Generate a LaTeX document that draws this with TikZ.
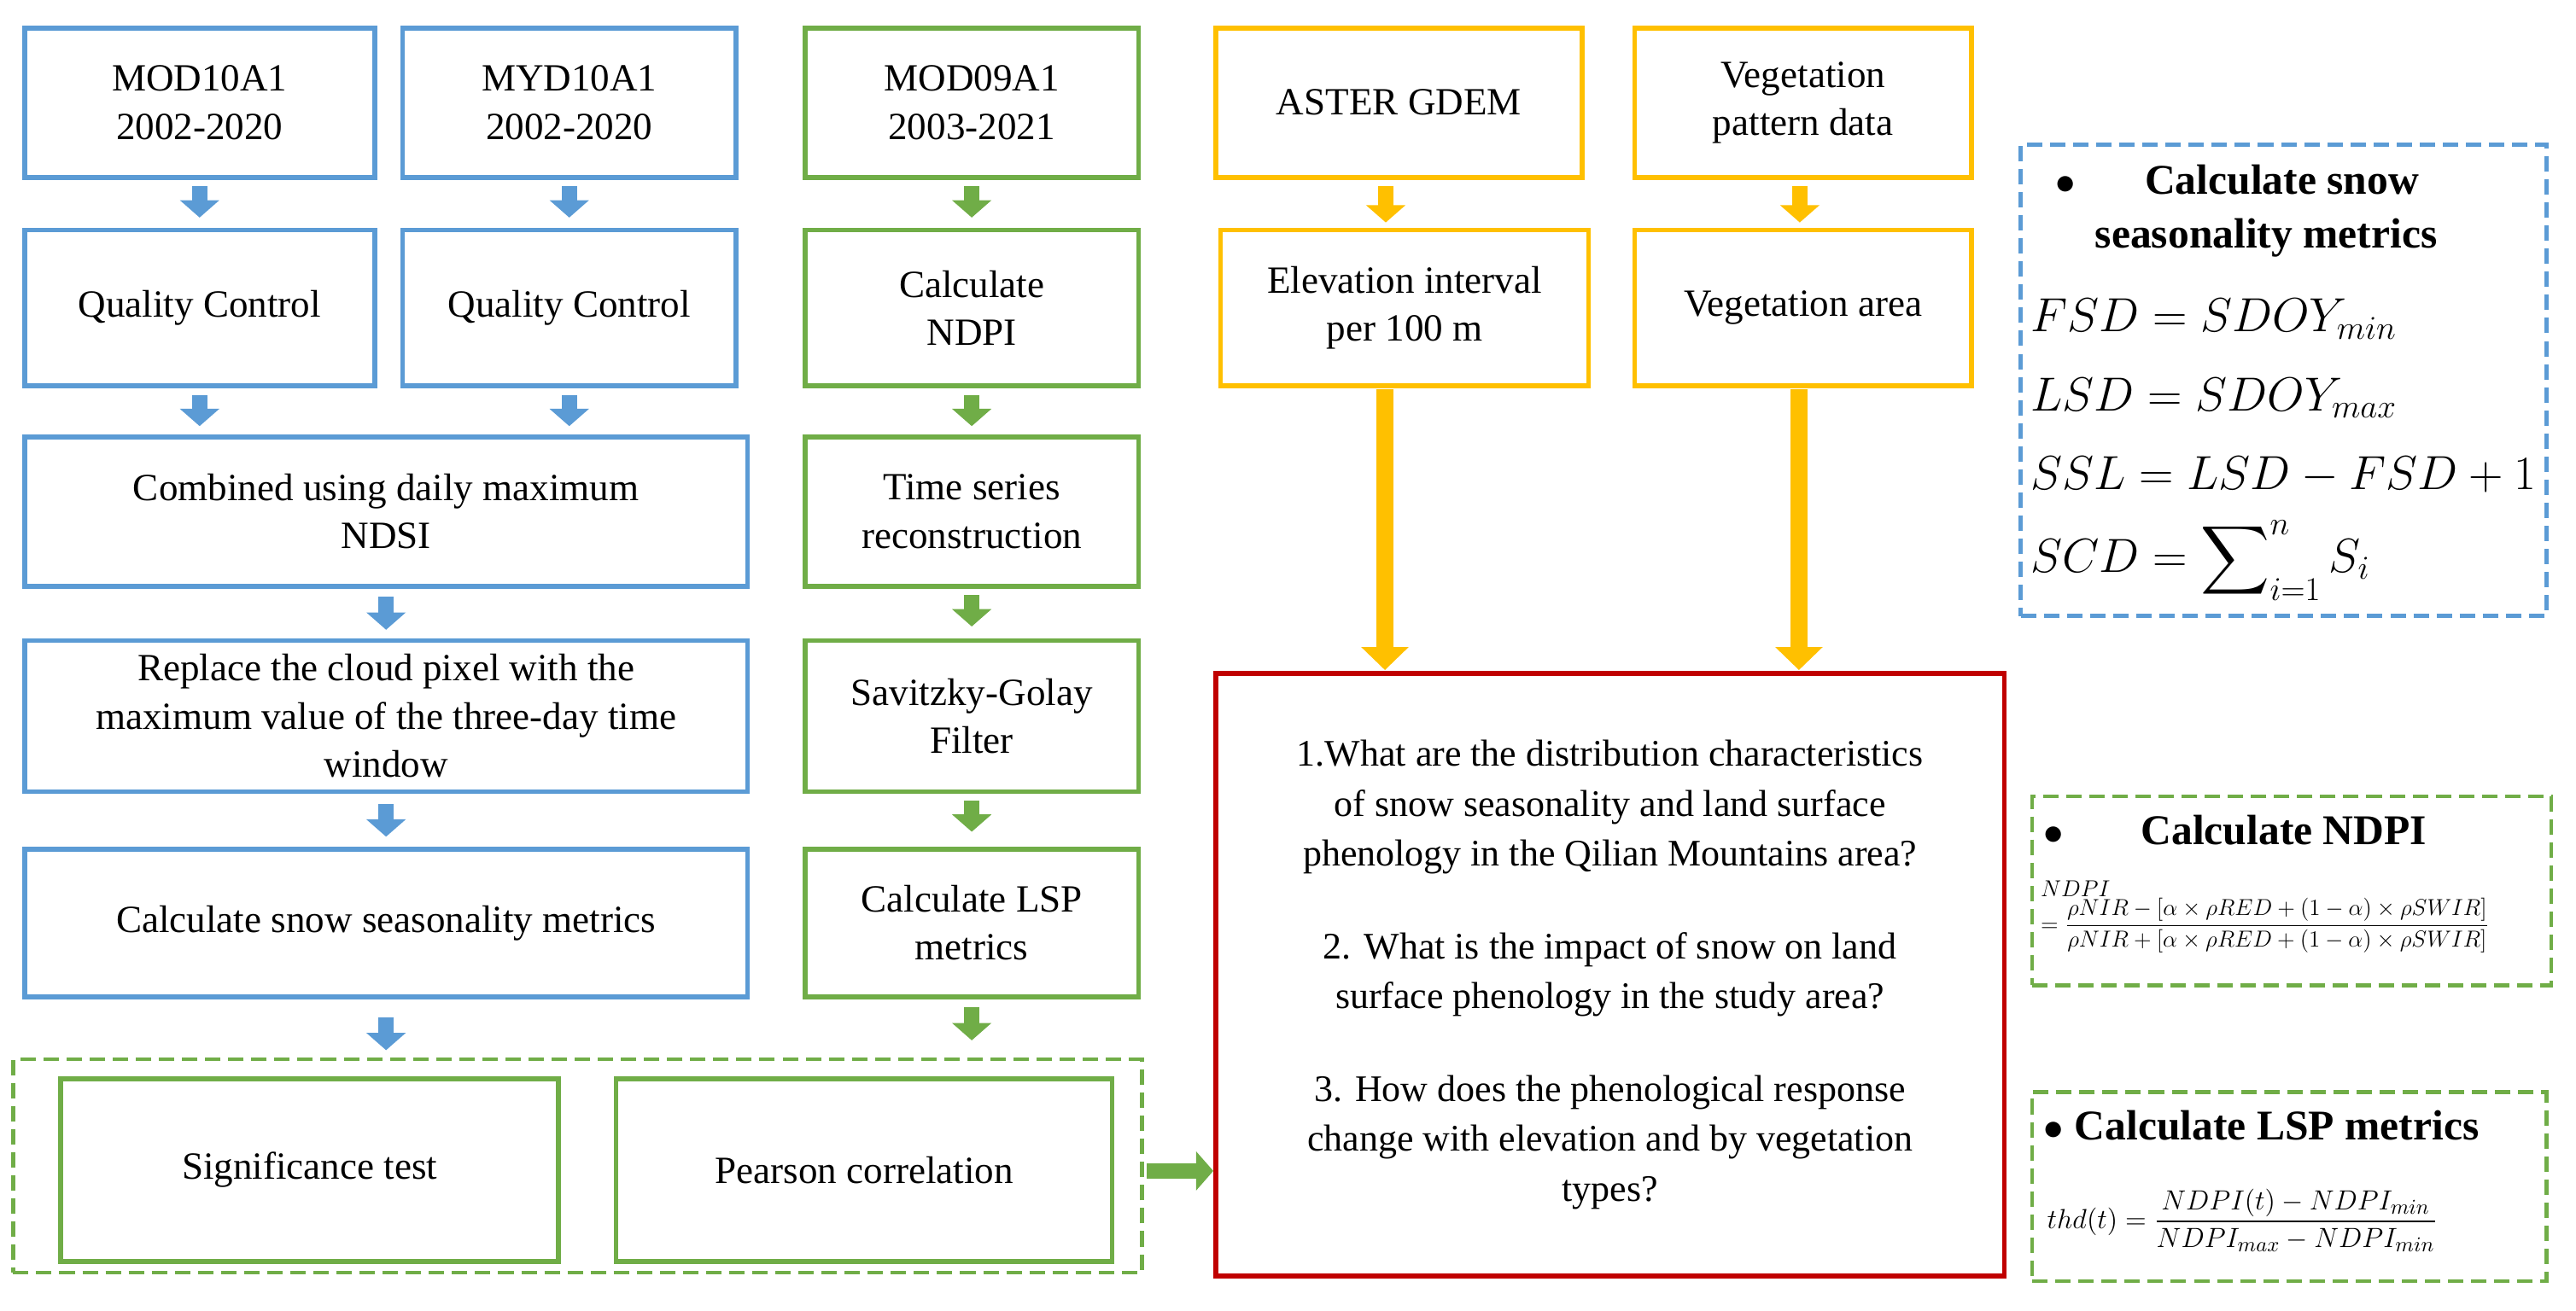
\documentclass[tikz,border=0pt]{standalone}
\usepackage{fontspec}
\usepackage{amsmath}
\setmainfont{Liberation Serif}
\usetikzlibrary{arrows.meta}
\definecolor{cb}{HTML}{5B9BD5}
\definecolor{cg}{HTML}{70AD47}
\definecolor{cy}{HTML}{FFC000}
\definecolor{cr}{HTML}{C00000}
\begin{document}
\begin{tikzpicture}[x=0.03cm,y=-0.03cm,
 bx/.style={draw,line width=2.5pt,align=center,inner sep=2pt,font=\fontsize{20}{25}\selectfont},
 bb/.style={bx,draw=cb}, bg/.style={bx,draw=cg}, by/.style={bx,draw=cy},
 ar/.style={line width=8pt,-{Triangle[width=20pt,length=9pt]}},
 bar/.style={ar,cb}, gar/.style={ar,cg}, yar/.style={ar,cy},
 dsh/.style={draw,line width=2pt,dash pattern=on 8pt off 4pt}]
\useasboundingbox (0,0) rectangle (1568,798);
% blue column
\node[bb,minimum width=213*0.03cm,minimum height=91*0.03cm] (m1) at (121.5,62.5) {MOD10A1\\2002-2020};
\node[bb,minimum width=203*0.03cm,minimum height=91*0.03cm] (m2) at (346.5,62.5) {MYD10A1\\2002-2020};
\node[bb,minimum width=213*0.03cm,minimum height=95*0.03cm] (q1) at (121.5,187.5) {Quality Control};
\node[bb,minimum width=203*0.03cm,minimum height=95*0.03cm] (q2) at (346.5,187.5) {Quality Control};
\node[bb,minimum width=440*0.03cm,minimum height=91*0.03cm] (cm) at (235,311.5) {Combined using daily maximum\\NDSI};
\node[bb,minimum width=440*0.03cm,minimum height=92*0.03cm] (rp) at (235,436) {Replace the cloud pixel with the\\maximum value of the three-day time\\window};
\node[bb,minimum width=440*0.03cm,minimum height=90*0.03cm] (cs) at (235,562) {Calculate snow seasonality metrics};
% green column
\node[bg,minimum width=203*0.03cm,minimum height=91*0.03cm] (g1) at (591.5,62.5) {MOD09A1\\2003-2021};
\node[bg,minimum width=203*0.03cm,minimum height=95*0.03cm] (g2) at (591.5,187.5) {Calculate\\NDPI};
\node[bg,minimum width=203*0.03cm,minimum height=91*0.03cm] (g3) at (591.5,311.5) {Time series\\reconstruction};
\node[bg,minimum width=203*0.03cm,minimum height=92*0.03cm] (g4) at (591.5,436) {Savitzky-Golay\\Filter};
\node[bg,minimum width=203*0.03cm,minimum height=90*0.03cm] (g5) at (591.5,562) {Calculate LSP\\metrics};
% bottom group
\node[dsh,draw=cg,minimum width=687*0.03cm,minimum height=130*0.03cm] (grp) at (351.5,710) {};
\node[bg,minimum width=303*0.03cm,minimum height=111*0.03cm] (sig) at (188.5,712.5) {Significance test};
\node[bg,minimum width=302*0.03cm,minimum height=111*0.03cm] (pc) at (526,712.5) {Pearson correlation};
% yellow
\node[by,minimum width=223*0.03cm,minimum height=91*0.03cm] (y1) at (851.5,62.5) {ASTER GDEM};
\node[by,minimum width=205*0.03cm,minimum height=91*0.03cm] (y2) at (1097.5,62.5) {Vegetation\\pattern data};
\node[by,minimum width=224*0.03cm,minimum height=95*0.03cm] (y3) at (855,187.5) {Elevation interval\\per 100 m};
\node[by,minimum width=205*0.03cm,minimum height=95*0.03cm] (y4) at (1097.5,187.5) {Vegetation area};
% red
\node[bx,draw=cr,minimum width=480*0.03cm,minimum height=367*0.03cm,font=\fontsize{19.5}{26}\selectfont] (q) at (980,593.5) {1.What are the distribution characteristics\\of snow seasonality and land surface\\phenology in the Qilian Mountains area?\\[22pt]2. What is the impact of snow on land\\surface phenology in the study area?\\[22pt]3. How does the phenological response\\change with elevation and by vegetation\\types?};
% arrows
\draw[bar] (m1.south) ++(0,4) -- ++(0,19);
\draw[bar] (m2.south) ++(0,4) -- ++(0,19);
\draw[bar] (q1.south) ++(0,4) -- ++(0,19);
\draw[bar] (q2.south) ++(0,4) -- ++(0,19);
\draw[bar] (cm.south) ++(0,5) -- ++(0,20);
\draw[bar] (rp.south) ++(0,6) -- ++(0,20);
\draw[bar] (cs.south) ++(0,11) -- ++(0,20);
\draw[gar] (g1.south) ++(0,4) -- ++(0,19);
\draw[gar] (g2.south) ++(0,4) -- ++(0,19);
\draw[gar] (g3.south) ++(0,4) -- ++(0,19);
\draw[gar] (g4.south) ++(0,4) -- ++(0,19);
\draw[gar] (g5.south) ++(0,5) -- ++(0,20);
\draw[yar] (y1.south) ++(-8,4) -- ++(0,22);
\draw[yar] (y2.south) ++(-2,4) -- ++(0,22);
\draw[ar,cy,line width=9pt,-{Triangle[width=24pt,length=12pt]}] (843,237) -- (843,408);
\draw[ar,cy,line width=9pt,-{Triangle[width=24pt,length=12pt]}] (1095,237) -- (1095,408);
\draw[gar] (grp.east) ++(2,3) -- (q.west|-0,713);
% right boxes
\node[dsh,draw=cb,minimum width=320*0.03cm,minimum height=287*0.03cm] (sb) at (1390,231.5) {};
\node[anchor=north west,font=\fontsize{22}{28}\selectfont\bfseries,align=center] (sbt) at (1236,96) {$\bullet$\hspace{36pt}Calculate snow\\\hspace{30pt}seasonality metrics};
\node[anchor=north west,font=\fontsize{23}{41}\selectfont,align=left] (sbf) at (1232,178) {$FSD=SDOY_{min}$\\$LSD=SDOY_{max}$\\$SSL=LSD-FSD+1$\\[2pt]$SCD=\displaystyle\sum\nolimits_{i=1}^{n}S_i$};
\node[dsh,draw=cg,minimum width=316*0.03cm,minimum height=115*0.03cm] (nb) at (1395,542.5) {};
\node[anchor=north west,font=\fontsize{22}{26}\selectfont\bfseries] (nbt) at (1240,492) {$\bullet$\hspace{40pt}Calculate NDPI};
\node[anchor=north west,font=\fontsize{12.5}{14}\selectfont,align=left,inner sep=0] (nbf) at (1242,536) {$NDPI$\\$=\dfrac{\rho NIR-[\alpha\times\rho RED+(1-\alpha)\times\rho SWIR]}{\rho NIR+[\alpha\times\rho RED+(1-\alpha)\times\rho SWIR]}$};
\node[dsh,draw=cg,minimum width=313*0.03cm,minimum height=115*0.03cm] (lb) at (1393.5,722.5) {};
\node[anchor=north west,font=\fontsize{22}{26}\selectfont\bfseries] (lbt) at (1240,672) {$\bullet$ Calculate LSP metrics};
\node[anchor=west,font=\fontsize{15}{17}\selectfont] (lbf) at (1242,743) {$thd(t)=\dfrac{NDPI(t)-NDPI_{min}}{NDPI_{max}-NDPI_{min}}$};
\end{tikzpicture}
\end{document}
